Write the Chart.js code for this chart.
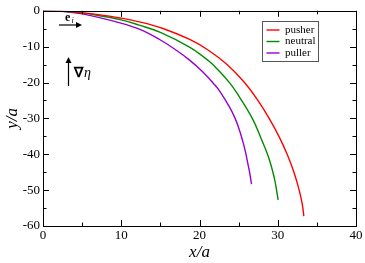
<!DOCTYPE html>
<html>
<head>
<meta charset="utf-8">
<script src="https://cdn.jsdelivr.net/npm/chart.js@4/dist/chart.umd.min.js"></script>
<style>
html,body{margin:0;padding:0;background:#fff;}
#wrap{width:365px;height:263px;}
</style>
</head>
<body>
<div id="wrap"><canvas id="c" width="365" height="263"></canvas></div>
<script>
const seriesNames = ["pusher", "neutral", "puller"];
const seriesColors = ["#ff0000", "#008b00", "#9400d3"];

const pusherX = [0, 2.2, 4.9, 6.85, 9.83, 12.14, 15.41, 18.75, 21.14, 23.52, 25.75, 27.46, 28.9, 30.15, 31.2, 32.07, 32.74, 33.14, 33.33];
const pusherY = [0, -0.1, -0.5, -1, -1.99, -3, -5, -8, -11, -15, -20, -25, -30, -35, -40, -45, -50, -54, -57.27];

const neutralX = [0, 1.98, 4.44, 6.28, 9.83, 12.3, 15.0, 18.77, 21.2, 22.6, 23.88, 24.77, 26.75, 28.05, 28.57, 29.0, 29.6, 30.05];
const neutralY = [0, -0.1, -0.5, -1, -2.45, -4, -6, -10.17, -14, -17, -20.18, -22.91, -30, -36.54, -39.27, -42, -47, -52.71];

const pullerX = [0, 1.7, 3.79, 5.37, 9.83, 12.39, 14.9, 17.04, 18.77, 20.4, 21.75, 22.6, 23.88, 24.55, 25.07, 25.55, 25.87, 26.12, 26.4, 26.65];
const pullerY = [0, -0.1, -0.5, -1, -3.35, -5.18, -8, -11, -13.83, -17, -20.18, -22.44, -27, -30, -33, -36.54, -39.27, -42, -45, -48.35];

const xTicks = [0, 10, 20, 30, 40];
const yTicks = [-60, -50, -40, -30, -20, -10, 0];
const xTitle = "x/a";
const yTitle = "y/a";

function pts(xs, ys){ return xs.map((x,i)=>({x:x, y:ys[i]})); }
const allX = [pusherX, neutralX, pullerX];
const allY = [pusherY, neutralY, pullerY];

const datasets = seriesNames.map((n,i)=>({
  label: n,
  data: pts(allX[i], allY[i]),
  borderColor: seriesColors[i],
  backgroundColor: seriesColors[i],
  borderWidth: 1.4,
  pointRadius: 0,
  fill: false,
  tension: 0.4
}));

const SERIF = "'Liberation Serif', 'Times New Roman', serif";

const decor = {
  id: 'decor',
  afterDraw(chart){
    const ctx = chart.ctx;
    const a = chart.chartArea;
    const xs = chart.scales.x, ys = chart.scales.y;
    ctx.save();
    ctx.strokeStyle = '#000';
    ctx.lineWidth = 1;
    ctx.strokeRect(Math.round(a.left)+0.5, Math.round(a.top)+0.5, Math.round(a.right-a.left), Math.round(a.bottom-a.top));
    ctx.beginPath();
    for (let v = 0; v <= 40; v += 5) {
      const px = Math.round(xs.getPixelForValue(v)) + 0.5;
      const L = (v % 10 === 0) ? 6 : 3.5;
      ctx.moveTo(px, a.bottom); ctx.lineTo(px, a.bottom - L);
      ctx.moveTo(px, a.top); ctx.lineTo(px, a.top + L);
    }
    for (let v = -60; v <= 0; v += 5) {
      const py = Math.round(ys.getPixelForValue(v)) + 0.5;
      const L = (v % 10 === 0) ? 6 : 3.5;
      ctx.moveTo(a.left, py); ctx.lineTo(a.left + L, py);
      ctx.moveTo(a.right, py); ctx.lineTo(a.right - L, py);
    }
    ctx.stroke();

    const bx = 262.5, by = 21.5, bw = 56, bh = 40;
    ctx.strokeStyle = '#555';
    ctx.lineWidth = 1;
    ctx.strokeRect(bx, by, bw, bh);
    ctx.font = "11px " + SERIF;
    ctx.textBaseline = 'middle';
    ctx.textAlign = 'left';
    for (let i = 0; i < seriesNames.length; i++) {
      const yy = 30 + i * 11.5;
      ctx.strokeStyle = seriesColors[i];
      ctx.lineWidth = 1.4;
      ctx.beginPath(); ctx.moveTo(266.5, yy); ctx.lineTo(279.5, yy); ctx.stroke();
      ctx.fillStyle = '#000';
      ctx.fillText(seriesNames[i], 285, yy);
    }

    ctx.strokeStyle = '#000'; ctx.fillStyle = '#000'; ctx.lineWidth = 1.2;
    ctx.beginPath(); ctx.moveTo(59, 25); ctx.lineTo(80, 25); ctx.stroke();
    ctx.beginPath(); ctx.moveTo(82, 25); ctx.lineTo(76, 22); ctx.lineTo(76, 28); ctx.closePath(); ctx.fill();
    ctx.font = "bold 12px " + SERIF;
    ctx.textBaseline = 'alphabetic';
    ctx.fillText("e", 65, 21);
    ctx.font = "italic 8px " + SERIF;
    ctx.fillText("i", 71.5, 23);

    ctx.beginPath(); ctx.moveTo(68.5, 86); ctx.lineTo(68.5, 60); ctx.stroke();
    ctx.beginPath(); ctx.moveTo(68.5, 57); ctx.lineTo(65.5, 63); ctx.lineTo(71.5, 63); ctx.closePath(); ctx.fill();
    ctx.font = "bold 14px " + SERIF;
    ctx.fillText("\u2207", 74, 77);
    ctx.font = "italic 14px " + SERIF;
    ctx.fillText("\u03B7", 84, 77);
    ctx.restore();
  }
};

new Chart(document.getElementById('c'), {
  type: 'line',
  data: { datasets: datasets },
  plugins: [decor],
  options: {
    responsive: false,
    animation: false,
    events: [],
    layout: { padding: { top: 6, right: 9, left: 0, bottom: 0 } },
    plugins: { legend: { display: false }, tooltip: { enabled: false } },
    scales: {
      x: {
        type: 'linear', min: 0, max: 40,
        afterBuildTicks(s){ s.ticks = xTicks.map(v=>({value:v})); },
        afterFit(s){ s.height = 37; },
        grid: { display: false, drawTicks: false },
        border: { display: false },
        ticks: { color: '#000', padding: 2, maxRotation: 0, font: { family: SERIF, size: 13 } },
        title: { display: true, text: xTitle, color: '#000', padding: { top: 3, bottom: 0 }, font: { family: SERIF, size: 17, style: 'italic' } }
      },
      y: {
        type: 'linear', min: -60, max: 0,
        afterBuildTicks(s){ s.ticks = yTicks.map(v=>({value:v})); },
        afterFit(s){ s.width = 43; },
        grid: { display: false, drawTicks: false },
        border: { display: false },
        ticks: { color: '#000', padding: 3, font: { family: SERIF, size: 13 } },
        title: { display: true, text: yTitle, color: '#000', padding: { top: 2, bottom: 0 }, font: { family: SERIF, size: 17, style: 'italic' } }
      }
    }
  }
});
</script>
</body>
</html>
